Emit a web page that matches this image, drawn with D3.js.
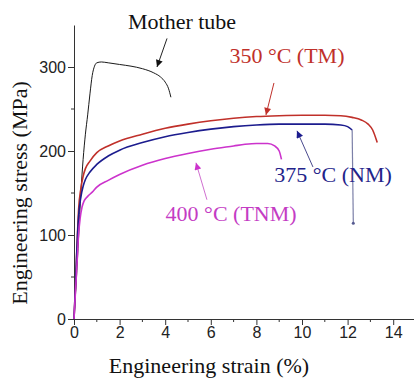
<!DOCTYPE html>
<html><head><meta charset="utf-8">
<script src="https://cdn.jsdelivr.net/npm/d3@7/dist/d3.min.js"></script>
<style>
html,body{margin:0;padding:0;background:#fff;}
svg{display:block;}
</style></head>
<body><svg id="c" width="414" height="378"></svg>
<script>
// ---- data (strain %, stress MPa) ----
const strainTicks = [0, 2, 4, 6, 8, 10, 12, 14];
const strainMinor = [1, 3, 5, 7, 9, 11, 13];
const stressTicks = [0, 100, 200, 300];
const stressMinor = [50, 150, 250];

const motherStrain = [0, 0.1, 0.2, 0.3, 0.4, 0.5, 0.6, 0.7, 0.8, 0.9, 1.0, 1.2, 1.5, 2.0, 2.5, 3.0, 3.5, 3.8, 4.0, 4.15, 4.25];
const motherStress = [0, 45, 97, 150, 190, 220, 243, 268, 290, 301, 305, 306, 305, 303, 301, 298, 293, 288, 282, 274, 264];

const tmStrain = [0, 0.05, 0.1, 0.15, 0.2, 0.3, 0.4, 0.5, 0.7, 1.0, 1.5, 2.0, 3.0, 4.0, 5.0, 6.0, 7.0, 8.0, 9.0, 10.0, 11.0, 11.7, 12.2, 12.6, 12.9, 13.1, 13.3];
const tmStress = [0, 30, 65, 100, 130, 155, 170, 179, 188, 198, 206, 212, 220, 227, 232, 236, 239, 241, 242, 242.5, 242.5, 242, 240, 237, 232, 225, 210];

const nmStrain = [0, 0.05, 0.1, 0.15, 0.2, 0.3, 0.4, 0.5, 0.7, 1.0, 1.5, 2.0, 3.0, 4.0, 5.0, 6.0, 7.0, 8.0, 9.0, 10.0, 11.0, 11.7, 12.0, 12.2];
const nmStress = [0, 30, 65, 97, 122, 145, 158, 166, 175, 184, 194, 201, 210, 217, 222, 226, 229, 231, 232, 232, 232, 231, 229, 225];
const nmDropStrain = [12.2, 12.25];
const nmDropStress = [225, 114];

const tnmStrain = [0, 0.05, 0.1, 0.15, 0.2, 0.27, 0.35, 0.45, 0.6, 0.8, 1.0, 1.5, 2.0, 3.0, 4.0, 5.0, 6.0, 7.0, 7.5, 8.0, 8.5, 8.8, 9.0, 9.1];
const tnmStress = [0, 25, 50, 75, 100, 120, 133, 141, 146, 151, 157, 165, 172, 183, 191, 197, 202, 206, 208, 209, 209, 206, 200, 190];

const labels = ["Mother tube", "350 \u00b0C (TM)", "375 \u00b0C (NM)", "400 \u00b0C (TNM)"];
const colors = ["#1a1a1a", "#c0302a", "#1c1c8e", "#cc33cc"];
const textColors = ["#111", "#c0302a", "#23238a", "#c43cc4"];

// ---- layout ----
const svg = d3.select("#c");
const x = d3.scaleLinear().domain([0, 15]).range([74, 416]);
const y = d3.scaleLinear().domain([0, 350]).range([319, 25]);

const tickFont = "'Liberation Sans', Arial, sans-serif";
const serif = "'Liberation Serif', 'Times New Roman', serif";

// minor ticks
svg.append("g").selectAll("line").data(strainMinor).join("line")
  .attr("x1", d => x(d)).attr("x2", d => x(d)).attr("y1", y(0)).attr("y2", y(0) + 3)
  .attr("stroke", "#333");
svg.append("g").selectAll("line").data(stressMinor).join("line")
  .attr("x1", x(0) - 3).attr("x2", x(0)).attr("y1", d => y(d)).attr("y2", d => y(d))
  .attr("stroke", "#333");

const xAxis = svg.append("g").attr("transform", `translate(0,${y(0)})`)
  .call(d3.axisBottom(x).tickValues(strainTicks).tickSize(6).tickSizeOuter(0).tickPadding(2));
const yAxis = svg.append("g").attr("transform", `translate(${x(0)},0)`)
  .call(d3.axisLeft(y).tickValues(stressTicks).tickSize(6).tickSizeOuter(0).tickPadding(2));
[xAxis, yAxis].forEach(g => {
  g.select(".domain").attr("stroke", "#333");
  g.selectAll(".tick line").attr("stroke", "#333");
  g.selectAll("text").attr("font-family", tickFont).attr("font-size", 16).attr("fill", "#222");
});

// titles
svg.append("text").attr("x", 209).attr("y", 373).attr("text-anchor", "middle")
  .attr("font-family", serif).attr("font-size", 22).attr("fill", "#111")
  .text("Engineering strain (%)");
svg.append("text").attr("transform", "translate(27,193) rotate(-90)").attr("text-anchor", "middle")
  .attr("font-family", serif).attr("font-size", 22).attr("fill", "#111")
  .text("Engineering stress (MPa)");

// curves
const line = d3.line().x(d => x(d[0])).y(d => y(d[1])).curve(d3.curveMonotoneX);
const zip = (a, b) => a.map((v, i) => [v, b[i]]);
const series = [
  [zip(motherStrain, motherStress), colors[0], 1],
  [zip(tmStrain, tmStress), colors[1], 1.6],
  [zip(nmStrain, nmStress), colors[2], 1.6],
  [zip(tnmStrain, tnmStress), colors[3], 1.6]
];
series.forEach(([d, c, w]) => {
  svg.append("path").datum(d).attr("d", line).attr("fill", "none")
    .attr("stroke", c).attr("stroke-width", w).attr("stroke-linejoin", "round");
});
svg.append("path").datum(zip(nmDropStrain, nmDropStress))
  .attr("d", d3.line().x(d => x(d[0])).y(d => y(d[1])))
  .attr("fill", "none").attr("stroke", "#7c80a8").attr("stroke-width", 1.2);
svg.append("circle").attr("cx", x(12.25)).attr("cy", y(114)).attr("r", 1.5).attr("fill", "#555a90");

// annotations (data coords)
const annText = [[4.74, 345], [9.34, 305], [11.36, 163], [6.89, 117]];
const arrowFrom = [[4.08, 334], [8.77, 281], [10.48, 181], [5.83, 142]];
const arrowTo = [[3.64, 300], [8.42, 243], [9.78, 224], [5.35, 186]];
const arrowColors = ["#222", "#c0302a", "#4a4a8e", "#d070d0"];
const headColors = ["#111", "#c0302a", "#1c1c8e", "#cc33cc"];

const defs = svg.append("defs");
headColors.forEach((c, i) => {
  defs.append("marker").attr("id", "ah" + i).attr("viewBox", "0 0 10 10")
    .attr("refX", 10).attr("refY", 5).attr("markerWidth", 9).attr("markerHeight", 7)
    .attr("markerUnits", "userSpaceOnUse").attr("orient", "auto")
    .append("path").attr("d", "M0,0L10,5L0,10Z").attr("fill", c);
});
arrowFrom.forEach((f, i) => {
  svg.append("line").attr("x1", x(f[0])).attr("y1", y(f[1]))
    .attr("x2", x(arrowTo[i][0])).attr("y2", y(arrowTo[i][1]))
    .attr("stroke", arrowColors[i]).attr("stroke-width", 1)
    .attr("marker-end", `url(#ah${i})`);
});
annText.forEach((p, i) => {
  svg.append("text").attr("x", x(p[0])).attr("y", y(p[1])).attr("text-anchor", "middle")
    .attr("font-family", serif).attr("font-size", 22).attr("fill", textColors[i])
    .text(labels[i]);
});
</script>
</body></html>
